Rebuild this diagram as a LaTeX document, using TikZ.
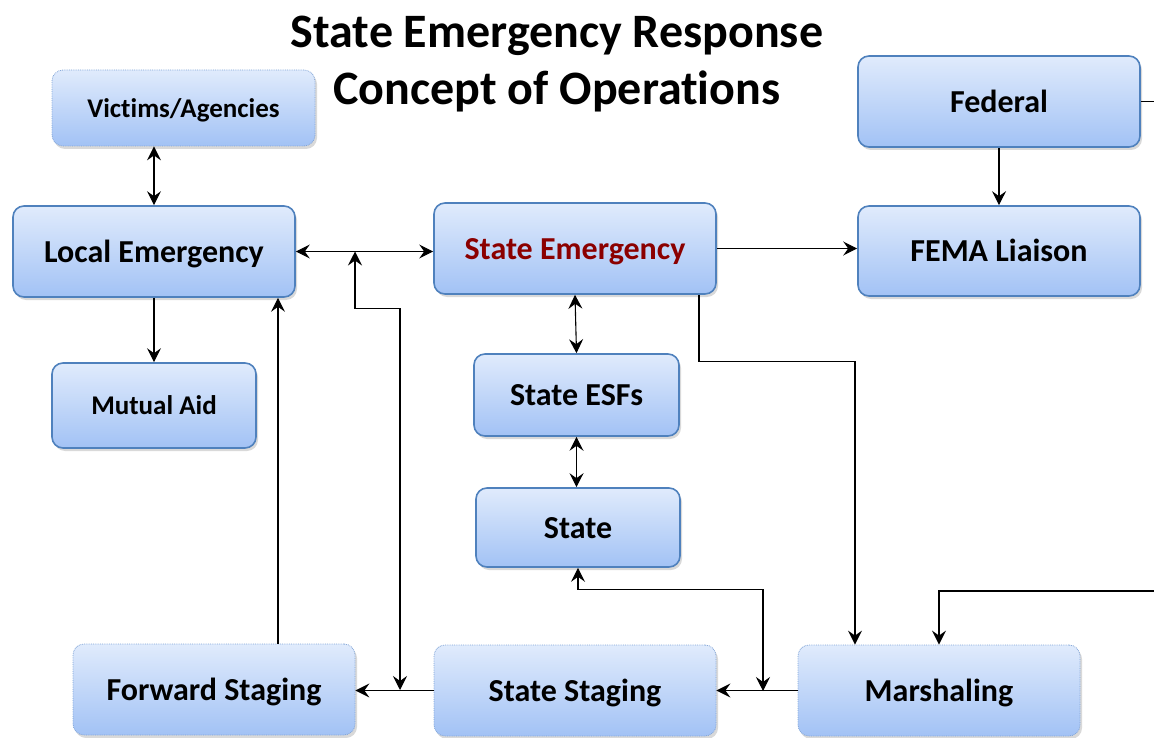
\documentclass[tikz,border=0pt]{standalone}
\usepackage{fontspec}
\setmainfont[Ligatures=NoCommon]{Carlito}
\usetikzlibrary{arrows.meta,shadows,calc}
\definecolor{boxtop}{HTML}{E0EBFC}
\definecolor{boxbot}{HTML}{A2C2F5}
\definecolor{boxline}{HTML}{4F81BD}
\definecolor{dotline}{HTML}{7FA3D6}
\definecolor{stred}{HTML}{8B0000}
\tikzset{
  >={Stealth[length=14pt,width=14pt,inset=5pt]},
  box/.style={rounded corners=11pt, top color=boxtop, bottom color=boxbot,
    draw=boxline, line width=1.6pt,
    drop shadow={opacity=0.3, shadow xshift=2pt, shadow yshift=-3pt},
    font=\fontsize{32}{37}\selectfont\bfseries, align=center, inner sep=0pt,
    text height=23.5pt, text depth=2pt},
  dbox/.style={box, draw=dotline, line width=0.8pt, densely dotted},
  smalltext/.style={font=\fontsize{27}{31}\selectfont\bfseries,
    text height=20pt, text depth=1.7pt},
  conn/.style={line width=1.1pt, draw=black},
  titletext/.style={font=\fontsize{48}{53}\selectfont\bfseries,
    text height=34pt, text depth=2.5pt, inner sep=0pt}
}
\begin{document}
\begin{tikzpicture}[x=1pt,y=-1pt]
\useasboundingbox (0,0) rectangle (1154,738);
% title
\node[titletext] (t1) at (557,32) {State Emergency Response};
\node[titletext] (t2) at (557,89) {Concept of Operations};
% boxes
\node[dbox,smalltext,minimum width=263pt,minimum height=76pt] (vict) at (183.5,108) {Victims/Agencies};
\node[box,minimum width=282pt,minimum height=91pt] (local) at (154,251.5) {Local Emergency};
\node[box,smalltext,minimum width=204pt,minimum height=85pt] (mutual) at (154,405.5) {Mutual Aid};
\node[box,minimum width=282pt,minimum height=91pt,text=stred] (semerg) at (575,248.5) {State Emergency};
\node[box,minimum width=205pt,minimum height=82pt] (esfs) at (576.5,395) {State ESFs};
\node[box,minimum width=204pt,minimum height=79pt] (state) at (578,527.5) {State};
\node[box,minimum width=282pt,minimum height=91pt] (federal) at (999,101.5) {Federal};
\node[box,minimum width=282pt,minimum height=90pt] (fema) at (999,251) {FEMA Liaison};
\node[dbox,minimum width=282pt,minimum height=91pt] (fwd) at (214,689.5) {Forward Staging};
\node[dbox,minimum width=282pt,minimum height=91pt] (sstag) at (575,690.5) {State Staging};
\node[dbox,minimum width=282pt,minimum height=91pt] (marsh) at (939,690.5) {Marshaling};
% helper coordinates
\coordinate (j1) at (355,251.5);
\coordinate (j2) at (400,690);
\coordinate (j3) at (763,691);
\coordinate (f1) at ([xshift=64pt]fwd.north);
\coordinate (s1) at ([xshift=124pt]semerg.south);
\coordinate (m1) at ([xshift=-84pt]marsh.north);
\coordinate (e1) at (1154,101.5);
\coordinate (e2) at (1154,591);
% connectors
\draw[conn,<->] (vict.south -| local.north) -- (local.north);
\draw[conn,->] (local.south) -- (mutual.north);
\draw[conn,<->] (local.east) -- (local.east -| semerg.west);
\draw[conn,->] (f1) -- (f1 |- local.south);
\draw[conn,<->] (j1) -- ++(0,57) -| (j2);
\draw[conn,->] (sstag.west) -- (sstag.west -| fwd.east);
\draw[conn,->] (marsh.west) -- (marsh.west -| sstag.east);
\draw[conn,<->] (semerg.south) -- (esfs.north);
\draw[conn,<->] (esfs.south) -- (esfs.south |- state.north);
\draw[conn,<->] (state.south) -- ++(0,22) -| (j3);
\draw[conn,->] (semerg.east) -- (semerg.east -| fema.west);
\draw[conn,->] (federal.south) -- (fema.north);
\draw[conn,->] (s1) -- ++(0,67) -| (m1);
\draw[conn] (federal.east) -- (e1);
\draw[conn,->] (e2) -| (marsh.north);
\end{tikzpicture}
\end{document}
